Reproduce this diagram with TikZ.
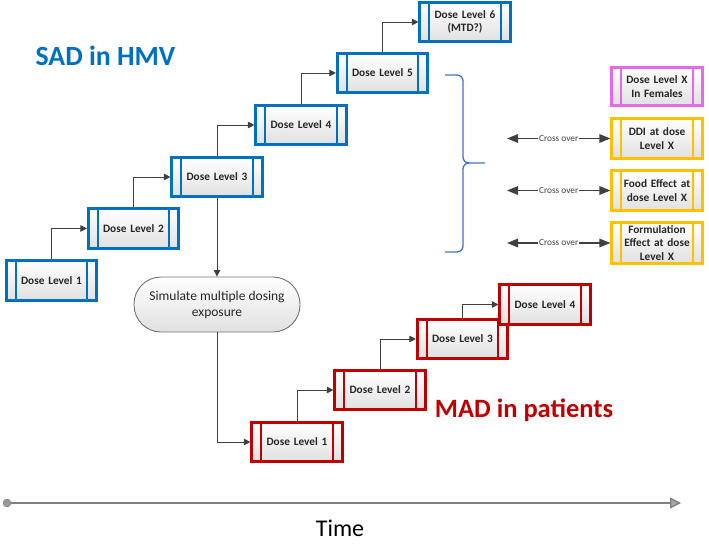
\documentclass[tikz,border=0pt]{standalone}
\usepackage{fontspec}
\setmainfont{Carlito}
\usetikzlibrary{arrows.meta}
\definecolor{sadblue}{RGB}{0,112,192}
\definecolor{madred}{RGB}{192,0,0}
\definecolor{pinkc}{RGB}{232,105,232}
\definecolor{goldc}{RGB}{255,192,0}
\definecolor{bracec}{RGB}{68,114,196}
\definecolor{connc}{RGB}{64,64,64}
\tikzset{
  proc/.style={draw=#1, line width=2.6pt, top color=white, bottom color=black!12,
    minimum width=90.5pt, minimum height=39.5pt, inner sep=1pt, text width=72pt,
    font=\fontsize{11.3}{13.3}\selectfont\bfseries, text=black!85, align=center,
    path picture={
      \draw[#1, line width=2pt] ([xshift=9.5pt]path picture bounding box.north west) -- ([xshift=9.5pt]path picture bounding box.south west);
      \draw[#1, line width=2pt] ([xshift=-9.5pt]path picture bounding box.north east) -- ([xshift=-9.5pt]path picture bounding box.south east);}},
  link/.style={draw=connc, line width=1pt, -{Triangle[length=6.5pt,width=6.5pt]}},
  xarrow/.style={draw=connc, line width=1.5pt, {Triangle[length=11pt,width=8.5pt]}-{Triangle[length=11pt,width=8.5pt]}},
  xlabel/.style={fill=white, inner sep=1pt, font=\fontsize{9.3}{11}\selectfont, text=connc},
  simbox/.style={draw=black!55, line width=0.9pt, rounded corners=27pt, top color=white, bottom color=black!12,
    minimum width=166pt, minimum height=55pt, align=center, font=\fontsize{13.5}{16}\selectfont, text=black!85},
  title/.style={font=\fontsize{26.5}{30}\selectfont\bfseries},
}
\begin{document}
\begin{tikzpicture}[x=1pt,y=-1pt]
\useasboundingbox (0,0) rectangle (709,549);
% SAD boxes
\node[proc=sadblue] (b1) at (51.5,280.5) {Dose Level 1};
\node[proc=sadblue] (b2) at (133.5,228.5) {Dose Level 2};
\node[proc=sadblue] (b3) at (217,177) {Dose Level 3};
\node[proc=sadblue] (b4) at (301,125) {Dose Level 4};
\node[proc=sadblue] (b5) at (382.5,73) {Dose Level 5};
\node[proc=sadblue] (b6) at (465,22) {Dose Level 6\\(MTD?)};
\draw[link] (b1.north) |- (b2.west);
\draw[link] (b2.north) |- (b3.west);
\draw[link] (b3.north) |- (b4.west);
\draw[link] (b4.north) |- (b5.west);
\draw[link] (b5.north) |- (b6.west);
% simulate
\node[simbox] (sim) at (217,304.5) {Simulate multiple dosing\\exposure};
\draw[link] (b3.south) -- (sim.north);
% MAD boxes
\node[proc=madred] (r1) at (297,442) {Dose Level 1};
\node[proc=madred] (r2) at (380,390) {Dose Level 2};
\node[proc=madred] (r3) at (462.5,339) {Dose Level 3};
\node[proc=madred] (r4) at (545,304.5) {Dose Level 4};
\draw[link] (sim.south) |- (r1.west);
\draw[link] (r1.north) |- (r2.west);
\draw[link] (r2.north) |- (r3.west);
\draw[link] (r3.north) |- (r4.west);
% right boxes
\node[proc=pinkc, minimum height=38.5pt] (fem) at (657,86.5) {Dose Level X\\In Females};
\node[proc=goldc, minimum height=40.5pt] (ddi) at (657,138.5) {DDI at dose\\Level X};
\node[proc=goldc, minimum height=40.5pt] (food) at (657,190.5) {Food Effect at\\dose Level X};
\node[proc=goldc, minimum height=41.5pt] (form) at (657,243) {Formulation\\Effect at dose\\Level X};
\coordinate (c1) at (507,138.5);
\coordinate (c2) at (507,190.5);
\coordinate (c3) at (507,243);
\draw[xarrow] (c1) -- node[xlabel]{Cross over} (ddi.west);
\draw[xarrow] (c2) -- node[xlabel]{Cross over} (food.west);
\draw[xarrow] (c3) -- node[xlabel]{Cross over} (form.west);
% brace
\draw[bracec, line width=1.3pt] (445,75) -- (457,75) to[out=0,in=90] (463,81) -- (463,157)
  to[out=-90,in=180] (469,163) -- (485,163);
\draw[bracec, line width=1.3pt] (469,163) to[out=180,in=90] (463,169) -- (463,246)
  to[out=-90,in=0] (457,252) -- (445,252);
% titles
\node[title, font=\fontsize{27.8}{30}\selectfont\bfseries, text=sadblue] (sad) at (105.5,56) {SAD in HMV};
\node[title, text=madred] (mad) at (524,410) {MAD in patients};
% time axis
\node[circle, draw=black!55, fill=black!40, minimum size=8pt, inner sep=0pt] (t0) at (7,503) {};
\coordinate (t1) at (681,503);
\draw[black!50, line width=1.3pt, -{Triangle[length=11pt,width=11pt,fill=black!35]}] (t0) -- (t1);
\node[font=\fontsize{24}{28}\selectfont, text=black] (time) at (340,528) {Time};
\end{tikzpicture}
\end{document}
